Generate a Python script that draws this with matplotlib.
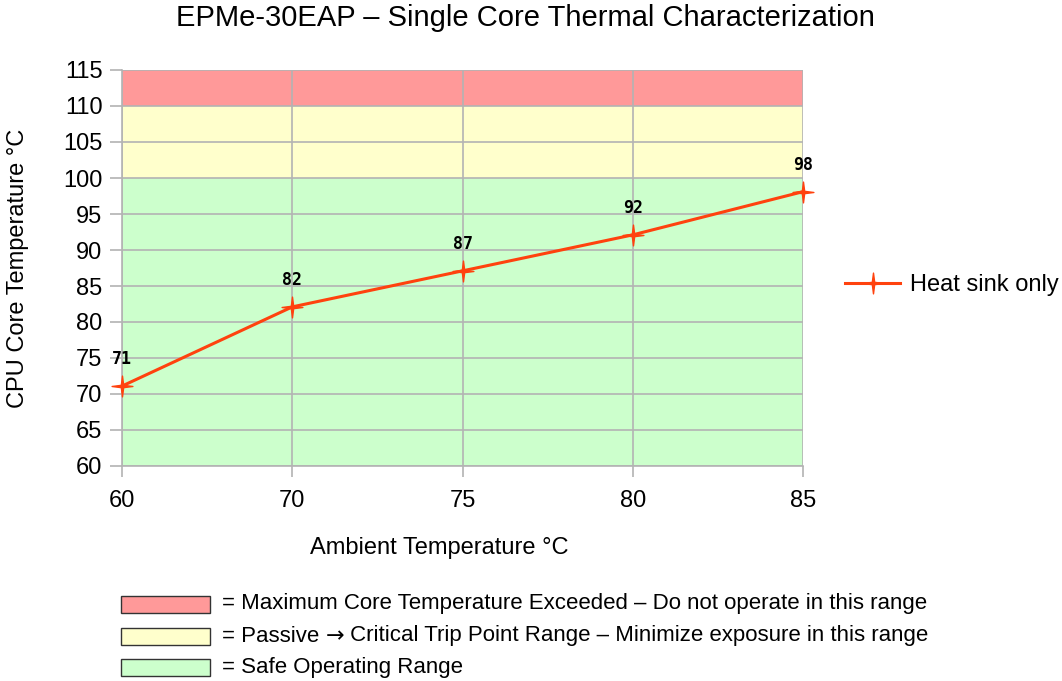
import matplotlib.pyplot as plt
from matplotlib.path import Path
from matplotlib.patches import Rectangle
import numpy as np

plt.rcParams['font.family'] = ['Liberation Sans', 'DejaVu Sans']

# data
ambient = ["60", "70", "75", "80", "85"]
core_temp = [71.1, 82.1, 87.1, 92.1, 98.1]
series_name = "Heat sink only"

band_edges = [60, 100, 110, 115]
band_colors = ["#ccffcc", "#ffffcc", "#ff9999"]
# each note split so the arrow can use a font with a full-size glyph
band_notes = [
    ["= Maximum Core Temperature Exceeded \u2013 Do not operate in this range"],
    ["= Passive ", "\u2192", " Critical Trip Point Range \u2013 Minimize exposure in this range"],
    ["= Safe Operating Range"],
]

line_color = "#ff420e"
grid_color = "#b3b3b3"

# 4-point star marker
t = np.linspace(0, 2 * np.pi, 9)[:-1]
pts = []
for i, a in enumerate(t):
    r = 1.0 if i % 2 == 0 else 0.16
    pts.append((r * np.sin(a), r * np.cos(a)))
pts.append(pts[0])
star = Path(pts, [Path.MOVETO] + [Path.LINETO] * 7 + [Path.CLOSEPOLY])

fig = plt.figure(figsize=(10.62, 6.81), dpi=100)
ax = fig.add_axes([122 / 1062, 1 - 466 / 681, (803 - 122) / 1062, (466 - 70) / 681])

x = np.arange(len(ambient))
for lo, hi, c in zip(band_edges[:-1], band_edges[1:], band_colors):
    ax.axhspan(lo, hi, color=c, zorder=0, lw=0)

ax.set_xlim(0, len(ambient) - 1)
ax.set_ylim(60, 115)
ax.set_yticks(range(60, 116, 5))
ax.set_xticks(x)
ax.set_xticklabels(ambient)
ax.grid(True, color=grid_color, lw=1.2, zorder=1)
ax.set_axisbelow(True)
for s in ["top", "right"]:
    ax.spines[s].set_visible(False)
for s in ["left", "bottom"]:
    ax.spines[s].set_color(grid_color)
    ax.spines[s].set_linewidth(1.2)
ax.tick_params(colors=grid_color, labelcolor="black", labelsize=17, width=1.2)
ax.tick_params(axis="y", length=9, pad=5)
ax.tick_params(axis="x", length=8, pad=9)

ax.plot(x, core_temp, color=line_color, lw=2.2, marker=star, markersize=15,
        markeredgecolor=line_color, markerfacecolor=line_color, label=series_name,
        zorder=3, clip_on=False)

for xi, v in zip(x, core_temp):
    ax.annotate(f"{v:.0f}", (xi, v), xytext=(0, 13), textcoords="offset points",
                ha="center", va="bottom", fontsize=12, family="DejaVu Sans Mono",
                fontweight="bold", zorder=4)

ax.set_xlabel("Ambient Temperature \u00b0C", fontsize=17)
ax.xaxis.set_label_coords(0.5 * (308 + 570) / 1062, 1 - 548 / 681, transform=fig.transFigure)
ax.xaxis.label.set_va("center")
ax.set_ylabel("CPU Core Temperature \u00b0C", fontsize=17)
ax.yaxis.set_label_coords(18 / 1062, 1 - 268 / 681, transform=fig.transFigure)
ax.yaxis.label.set_va("center")
fig.text(0.5 * (175 + 876) / 1062, 1 - 18 / 681, "EPMe-30EAP \u2013 Single Core Thermal Characterization",
         ha="center", va="center", fontsize=21)

fig.legend(loc="center left", bbox_to_anchor=(824 / 1062, 1 - 285 / 681), frameon=False,
           fontsize=17, handlelength=2.33, handletextpad=0.42)

# bottom colour key
box_y = [604, 636, 667]
fig.canvas.draw()
rend = fig.canvas.get_renderer()
for yc, c, parts in zip(box_y, band_colors[::-1], band_notes):
    fig.patches.append(Rectangle((121 / 1062, 1 - (yc + 8.5) / 681), 89 / 1062, 17 / 681,
                                 transform=fig.transFigure, facecolor=c,
                                 edgecolor="#333333", lw=1))
    xpos = 222
    for part in parts:
        fam = "DejaVu Sans" if part == "\u2192" else "Liberation Sans"
        txt = fig.text(xpos / 1062, 1 - yc / 681, part, ha="left", va="center",
                       fontsize=16, family=fam)
        xpos += txt.get_window_extent(rend).width

fig.savefig("out.png", dpi=100)
